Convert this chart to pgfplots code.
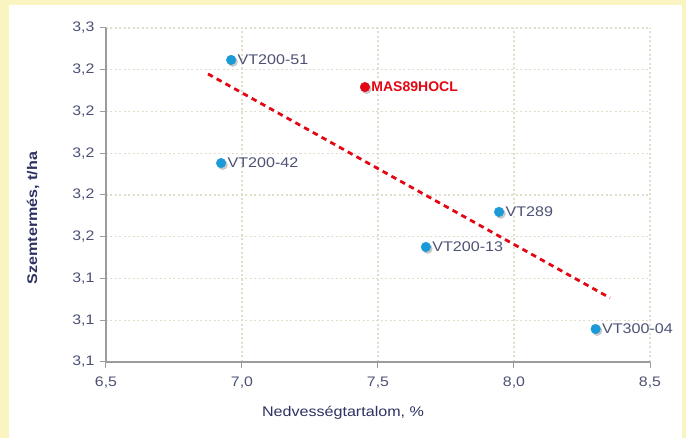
\documentclass[border=0pt]{standalone}
\usepackage{pgfplots}
\pgfplotsset{compat=1.18}
\usepackage{pgfplotstable}
\usepackage{fontspec}
\setmainfont{Liberation Sans}
\newfontfamily\widesans[FakeStretch=1.15]{Liberation Sans}

\definecolor{bgyellow}{HTML}{FAF4C0}
\definecolor{ptblue}{HTML}{1A9AD6}
\definecolor{ptred}{HTML}{E30613}
\definecolor{ticktxt}{HTML}{4D5275}
\definecolor{labtxt}{HTML}{2E3262}
\definecolor{gridc}{HTML}{E0DECB}
\definecolor{axisc}{HTML}{9C9C9C}

% hybrids: moisture %, yield t/ha
\pgfplotstableread{
x      y       label
6.960  3.2447  VT200-51
6.923  3.1953  VT200-42
7.945  3.1719  VT289
7.676  3.1551  VT200-13
8.300  3.1158  VT300-04
}\hybrids
\pgfplotstableread{
x      y       label
7.452  3.2317  MAS89HOCL
}\mas

\begin{document}
\begin{tikzpicture}
\fill[bgyellow] (-106pt,-76pt) rectangle (580pt,362pt);
\fill[white] (-97pt,-76pt) rectangle (576pt,357pt);
\begin{axis}[
    at={(0pt,0pt)}, anchor=origin,
    scale only axis,
    width=544pt, height=334pt,
    xmin=6.5, xmax=8.5, ymin=3.10, ymax=3.26,
    xtick={6.5,7,7.5,8,8.5},
    ytick={3.10,3.12,3.14,3.16,3.18,3.20,3.22,3.24,3.26},
    axis x line*=bottom, axis y line*=left,
    axis line style={axisc, line width=1.3pt, -},
    tick align=outside, major tick length=6pt,
    tick style={axisc, line width=1pt},
    grid=major,
    grid style={gridc, line width=1.1pt, dash pattern=on 2pt off 2.5pt},
    /pgf/number format/assume math mode=true,
    /pgf/number format/.cd, fixed, fixed zerofill, precision=1, use comma,
    /pgfplots/.cd,
    ticklabel style={font=\widesans\fontsize{13.8}{15}\selectfont, text=ticktxt},
    yticklabel style={xshift=-2pt},
    xticklabel style={yshift=-5pt},
    xlabel={Nedvességtartalom, \%},
    xlabel style={font=\widesans\fontsize{14}{17}\selectfont, text=labtxt,
        at={(axis description cs:0.4357,0)}, anchor=center, yshift=-51pt},
    ylabel={Szemtermés, t/ha},
    ylabel style={font=\widesans\fontsize{14}{17}\selectfont\bfseries, text=labtxt,
        at={(axis description cs:-0.1342,0.431)}, anchor=center},
    clip=false,
]
% trend line
\addplot[ptred, line width=2.8pt, dash pattern=on 5.5pt off 4.5pt]
    coordinates {(6.875,3.238) (8.353,3.1307)};
% shadows
\addplot[only marks, mark=*, mark size=4.8pt,
    mark options={fill=black!40, draw=black!40, opacity=0.5, xshift=1.6pt, yshift=-1.8pt}]
    table[x=x, y=y] {\hybrids};
\addplot[only marks, mark=*, mark size=4.8pt,
    mark options={fill=black!40, draw=black!40, opacity=0.5, xshift=1.6pt, yshift=-1.8pt}]
    table[x=x, y=y] {\mas};
% points
\addplot[only marks, mark=*, mark size=4.8pt,
    mark options={fill=ptblue, draw=ptblue},
    point meta=explicit symbolic, nodes near coords,
    every node near coord/.append style={anchor=west, xshift=3pt,
        font=\widesans\fontsize{14}{16}\selectfont, text=ticktxt}]
    table[x=x, y=y, meta=label] {\hybrids};
\addplot[only marks, mark=*, mark size=4.8pt,
    mark options={fill=ptred, draw=ptred},
    point meta=explicit symbolic, nodes near coords,
    every node near coord/.append style={anchor=west, xshift=3pt,
        font=\fontsize{14}{16}\selectfont\bfseries, text=ptred}]
    table[x=x, y=y, meta=label] {\mas};
\end{axis}
\end{tikzpicture}
\end{document}
